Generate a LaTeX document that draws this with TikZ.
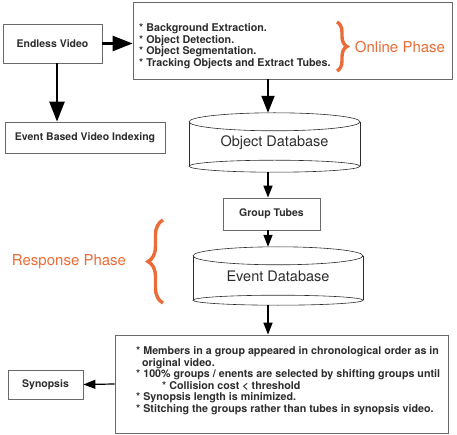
\documentclass[tikz,border=0pt]{standalone}
\usepackage{fontspec}
\setmainfont{TeX Gyre Heros}
\usetikzlibrary{
  arrows.meta,
  decorations.pathreplacing,
  positioning
}
\definecolor{phaseorange}{RGB}{234,108,56}
\definecolor{inkgray}{RGB}{45,45,45}
\definecolor{rulegray}{RGB}{105,105,105}
\tikzset{
  stepbox/.style={draw=rulegray,line width=0.8pt,fill=white,inner sep=0pt,
    align=center,text=inkgray,font=\bfseries\fontsize{10.5}{12}\selectfont},
  steplist/.style={align=left,inner sep=0pt,text=inkgray,
    font=\bfseries\fontsize{10.7}{11.5}\selectfont},
  dbbody/.style={inner sep=0pt,text=inkgray,
    font=\fontsize{14.5}{17}\selectfont},
  dbline/.style={draw=inkgray,line width=0.6pt},
  phaselab/.style={inner sep=0pt,text=phaseorange,
    font=\fontsize{15}{18}\selectfont},
  phasebrace/.style={draw=phaseorange,line width=3.4pt,decorate},
  bigflow/.style={-{Triangle[length=20pt,width=15pt]},line width=2.6pt},
  midflow/.style={-{Triangle[length=17pt,width=13pt]},line width=2pt},
  flow/.style={-{Triangle[length=12pt,width=9pt]},line width=1.5pt}
}

\begin{document}
\begin{tikzpicture}[x=1pt,y=-1pt]
  \useasboundingbox (0,0) rectangle (457,435);
  \coordinate (spine) at (268,0);

  \node[stepbox,minimum width=99pt,minimum height=39pt] (endless) at (52.5,43.5) {Endless Video};
  \node[stepbox,minimum width=319pt,minimum height=77pt] (extract) at (292.5,40.5) {};
  \node[steplist,anchor=west] (extractlist) at (139,46) {
    * Background Extraction.\\
    * Object Detection.\\
    * Object Segmentation.\\
    * Tracking Objects and Extract Tubes.};
  \draw[phasebrace,decoration={brace,amplitude=10pt}] (337,22) -- (337,71);
  \node[phaselab] (online) at (400,47) {Online Phase};
  \draw[bigflow] (endless.east) -- (endless.east -| extract.west);

  \node[stepbox,minimum width=160pt,minimum height=31pt] (evindex) at (85,137.5) {Event Based Video Indexing};
  \draw[bigflow] ([xshift=4.5pt]endless.south) -- ([xshift=4.5pt]endless.south |- evindex.north);

  \node[dbbody,minimum width=171pt,minimum height=59pt] (objdb) at (274.5,142.5) {\raisebox{-1pt}{Object Database}};
  \draw[dbline] ([yshift=-9pt]objdb.north) ellipse (85.5pt and 9pt);
  \draw[dbline] ([yshift=6pt]objdb.south) ellipse (85.5pt and 6pt);
  \draw[dbline] ([yshift=-9pt]objdb.north west) -- ([yshift=6pt]objdb.south west);
  \draw[dbline] ([yshift=-9pt]objdb.north east) -- ([yshift=6pt]objdb.south east);
  \draw[midflow] (extract.south -| spine) -- (objdb.north -| spine);

  \node[stepbox,minimum width=97pt,minimum height=32pt] (group) at (271.5,214) {Group Tubes};
  \draw[flow] (objdb.south -| spine) -- (group.north -| spine);

  \node[dbbody,minimum width=170pt,minimum height=58pt] (evdb) at (278,276) {\raisebox{-6pt}{Event Database}};
  \draw[dbline] ([yshift=-9pt]evdb.north) ellipse (85pt and 9pt);
  \draw[dbline] ([yshift=5pt]evdb.south) ellipse (85pt and 5pt);
  \draw[dbline] ([yshift=-9pt]evdb.north west) -- ([yshift=5pt]evdb.south west);
  \draw[dbline] ([yshift=-9pt]evdb.north east) -- ([yshift=5pt]evdb.south east);
  \draw[flow] (group.south -| spine) -- (evdb.north -| spine);
  \draw[phasebrace,decoration={brace,amplitude=15pt}] (163,303) -- (163,220);
  \node[phaselab] (response) at (69,262) {Response Phase};

  \node[stepbox,minimum width=333pt,minimum height=98pt] (synth) at (281.5,384) {};
  \node[steplist,anchor=west] (synthlist) at (136,380.5) {
    * Members in a group appeared in chronological order as in\\
    \hspace*{6pt}original video.\\
    * 100\% groups / enents are selected by shifting groups until\\
    \hspace*{26pt}* Collision cost < threshold\\
    * Synopsis length is minimized.\\
    * Stitching the groups rather than tubes in synopsis video.};
  \draw[flow] (evdb.south -| spine) -- (synth.north -| spine);

  \node[stepbox,minimum width=75pt,minimum height=29pt] (synopsis) at (45.5,384.5) {Synopsis};
  \draw[flow,line width=1.2pt] (synth.west) -- (synopsis.east);
\end{tikzpicture}
\end{document}
